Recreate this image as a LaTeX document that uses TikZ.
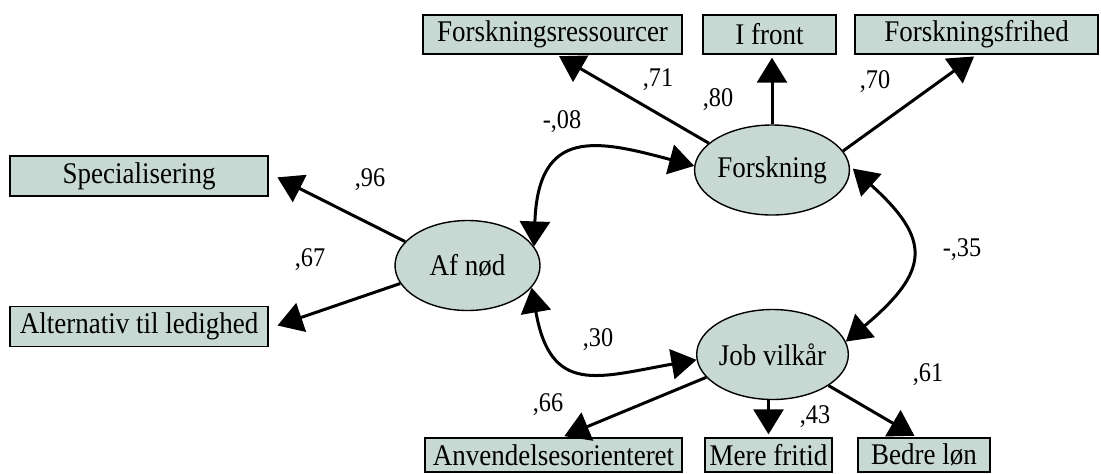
\documentclass[tikz,border=0pt]{standalone}
\usepackage{fontspec}
\setmainfont{Liberation Serif}[FakeStretch=0.9]
\usepackage{tikz}
\usetikzlibrary{arrows.meta,calc,positioning,shapes.geometric}
\definecolor{semfill}{RGB}{200,217,211}
\tikzset{%
	indicator/.style = {draw, rectangle, fill=semfill, line width=0.7pt, minimum height=19.5pt, inner sep=0pt, font=\fontsize{15}{17}\selectfont}, % observed
	factor/.style    = {draw, ellipse, fill=semfill, line width=0.7pt, minimum width=72.5pt, minimum height=45pt, inner sep=0pt, font=\fontsize{15}{17}\selectfont}, % latent
	coef/.style      = {inner sep=0pt, font=\fontsize{13.5}{15}\selectfont}, % loading
	arrow/.style     = {line width=1.5pt, ->, shorten >=1.5pt},
	biarrow/.style   = {line width=1.5pt, <->},
}

\begin{document}
\begin{tikzpicture}[x=0.5pt,y=0.5pt,>={Triangle[length=12.5pt,width=15pt]}]
	\useasboundingbox (0,0) rectangle (1101,473);
	% latent factors
	\node [factor] (forsk) at (772,303) {Forskning};
	\node [factor] (afnod) at (467.5,207.5) {Af nød};
	\node [factor] (jobv) at (772.5,118.5) {Job vilkår};
	% indicators
	\node [indicator, minimum width=129.5pt] (fres) at (552.5,438.5) {Forskningsressourcer};
	\node [indicator, minimum width=66.5pt] (ifront) at (769.5,438.5) {I front};
	\node [indicator, minimum width=121.5pt] (ffri) at (976.5,438.5) {Forskningsfrihed};
	\node [indicator, minimum width=129pt, minimum height=20pt] (spec) at (139,297) {Specialisering};
	\node [indicator, minimum width=129pt, minimum height=20pt] (alt) at (139,146.5) {Alternativ til ledighed};
	\node [indicator, minimum width=128.5pt, minimum height=17pt] (anv) at (553.5,18) {Anvendelsesorienteret};
	\node [indicator, minimum width=63.5pt, minimum height=17pt] (mfri) at (768.5,18) {Mere fritid};
	\node [indicator, minimum width=66pt, minimum height=17pt] (bloen) at (924,18) {Bedre løn};
	
	\draw [arrow] (forsk.157) -- ([xshift=2pt]fres.south);
	\draw [arrow] (forsk.north) -- (forsk.north |- ifront.south);
	\draw [arrow] (forsk.15) -- (ffri.south);
	\draw [arrow] (afnod.159) -- ([xshift=3pt]spec.east);
	\draw [arrow] (afnod.195) -- ([xshift=3pt]alt.east);
	\draw [arrow] (jobv.199) -- ([xshift=4pt]anv.north);
	\draw [arrow] (mfri.north |- jobv.south) -- (mfri.north);
	\draw [arrow] (jobv.331) -- ([xshift=-3.5pt]bloen.north);
	
	% correlations
	\draw [biarrow] (afnod.16) .. controls +(88:120) and +(165:100) .. (forsk.177);
	\draw [biarrow] (afnod.341) .. controls +(280:110) and +(190:100) .. (jobv.184);
	\draw [biarrow, shorten <=2pt] (forsk.3) .. controls +(318:110) and +(40:110) .. (jobv.10);
	
	% coefficients
	\node [coef] (c71) at (658,393) {,71};
	\node [coef] (c80) at (718,373) {,80};
	\node [coef] (c70) at (875,391) {,70};
	\node [coef] (c08) at (562,351) {-,08};
	\node [coef] (c96) at (370,293) {,96};
	\node [coef] (c67) at (310,213) {,67};
	\node [coef] (c30) at (598,133) {,30};
	\node [coef] (c66) at (548,68) {,66};
	\node [coef] (c43) at (815,56) {,43};
	\node [coef] (c61) at (928,98) {,61};
	\node [coef] (c35) at (962,223) {-,35};
\end{tikzpicture}
\end{document}
